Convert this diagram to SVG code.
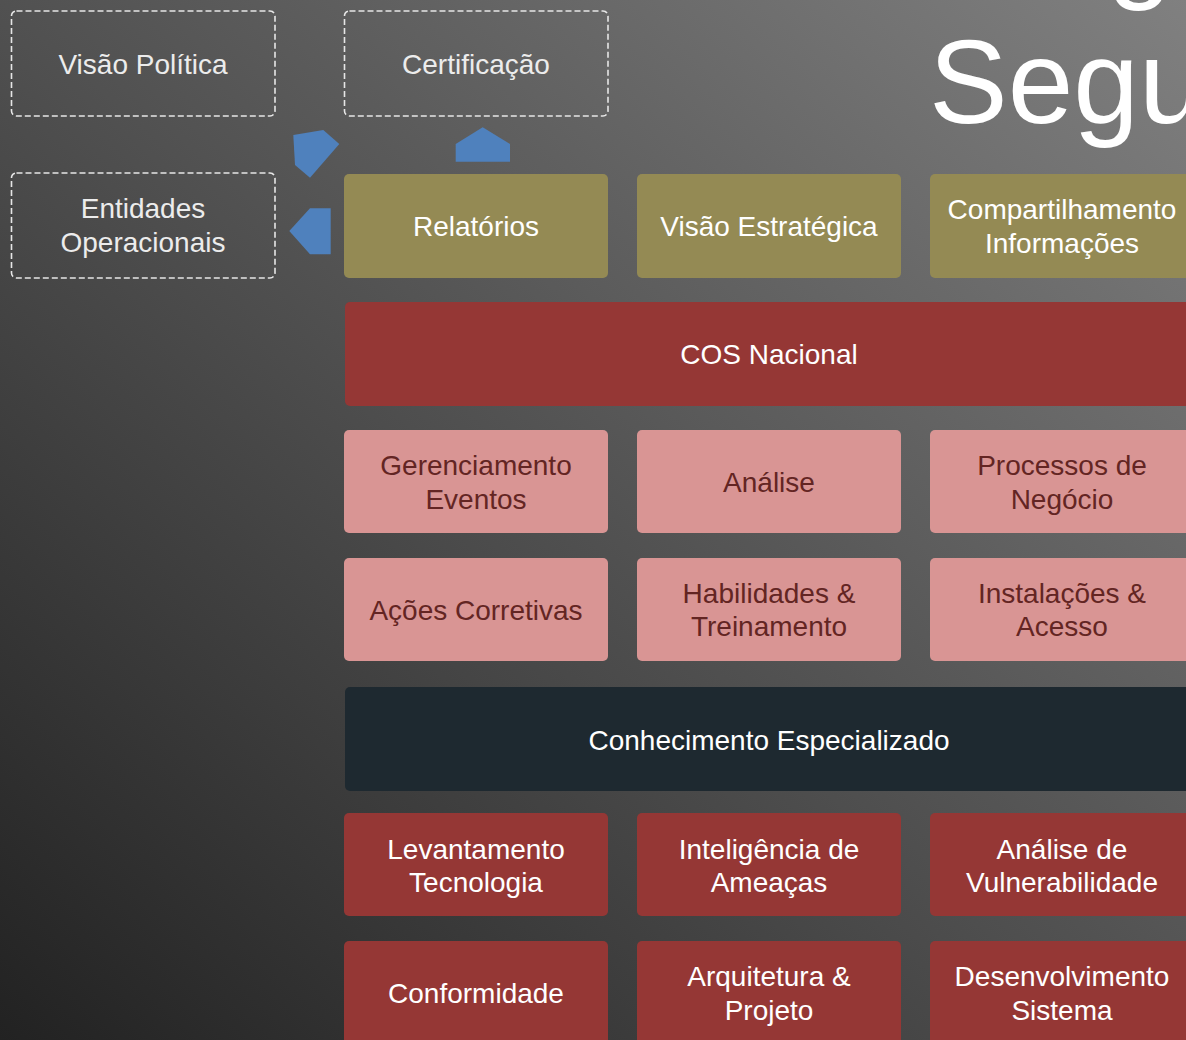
<svg xmlns="http://www.w3.org/2000/svg" width="1186" height="1040" viewBox="0 0 1186 1040">
<defs>
<linearGradient id="bg" x1="1" y1="0" x2="0" y2="1">
<stop offset="0" stop-color="#808080"/>
<stop offset="1" stop-color="#222222"/>
</linearGradient>
</defs>
<style>
text{font-family:"Liberation Sans",Arial,sans-serif;font-size:28px;text-anchor:middle}
.dash rect{fill:none;stroke:#e6e6e6;stroke-width:1.6;stroke-dasharray:6 3}
.dash text{fill:#ececec}
.olive rect{fill:#948a54}
.olive text{fill:#ffffff}
.cos rect{fill:#953735}
.cos text{fill:#ffffff}
.pink rect{fill:#d99594}
.pink text{fill:#632523}
.dark rect{fill:#1e2930}
.dark text{fill:#ffffff}
.arrow{fill:#4f81bd}
.title{font-size:118px;fill:#ffffff;text-anchor:start}
</style>
<rect width="1186" height="1040" fill="url(#bg)"/>
<text class="title" x="1107" y="-14">g</text>
<text class="title" x="929" y="123">Segu</text>

<g id="connectors">
<polygon class="arrow" points="293.3,135 323.3,130 339.3,144 310,177.7 295,165"/>
<polygon class="arrow" points="455.7,144 482.7,127.3 510,144 510,161.7 455.7,161.7"/>
<polygon class="arrow" points="289.3,231 310,208.3 330.7,208.3 330.7,254.3 310,254.3"/>
</g>

<g id="visao-politica" class="dash"><rect x="11.5" y="11" width="263.5" height="105" rx="5"/><text x="143" y="74">Visão Política</text></g>
<g id="certificacao" class="dash"><rect x="344.5" y="11" width="263.5" height="105" rx="5"/><text x="476" y="74">Certificação</text></g>
<g id="entidades-operacionais" class="dash"><rect x="11.5" y="173" width="263.5" height="105" rx="5"/><text x="143" y="218">Entidades</text><text x="143" y="252">Operacionais</text></g>

<g id="relatorios" class="olive"><rect x="344" y="174" width="264" height="104" rx="5"/><text x="476" y="236">Relatórios</text></g>
<g id="visao-estrategica" class="olive"><rect x="637" y="174" width="264" height="104" rx="5"/><text x="769" y="236">Visão Estratégica</text></g>
<g id="compartilhamento" class="olive"><rect x="930" y="174" width="264" height="104" rx="5"/><text x="1062" y="219">Compartilhamento</text><text x="1062" y="253">Informações</text></g>

<g id="cos-nacional" class="cos"><rect x="345" y="302" width="848" height="104" rx="5"/><text x="769" y="364">COS Nacional</text></g>

<g id="gerenciamento-eventos" class="pink"><rect x="344" y="430" width="264" height="103" rx="5"/><text x="476" y="475">Gerenciamento</text><text x="476" y="509">Eventos</text></g>
<g id="analise" class="pink"><rect x="637" y="430" width="264" height="103" rx="5"/><text x="769" y="492">Análise</text></g>
<g id="processos-negocio" class="pink"><rect x="930" y="430" width="264" height="103" rx="5"/><text x="1062" y="475">Processos de</text><text x="1062" y="509">Negócio</text></g>

<g id="acoes-corretivas" class="pink"><rect x="344" y="558" width="264" height="103" rx="5"/><text x="476" y="620">Ações Corretivas</text></g>
<g id="habilidades-treinamento" class="pink"><rect x="637" y="558" width="264" height="103" rx="5"/><text x="769" y="603">Habilidades &amp;</text><text x="769" y="636">Treinamento</text></g>
<g id="instalacoes-acesso" class="pink"><rect x="930" y="558" width="264" height="103" rx="5"/><text x="1062" y="603">Instalações &amp;</text><text x="1062" y="636">Acesso</text></g>

<g id="conhecimento-especializado" class="dark"><rect x="345" y="687" width="848" height="104" rx="5"/><text x="769" y="750">Conhecimento Especializado</text></g>

<g id="levantamento-tecnologia" class="cos"><rect x="344" y="813" width="264" height="103" rx="5"/><text x="476" y="859">Levantamento</text><text x="476" y="892">Tecnologia</text></g>
<g id="inteligencia-ameacas" class="cos"><rect x="637" y="813" width="264" height="103" rx="5"/><text x="769" y="859">Inteligência de</text><text x="769" y="892">Ameaças</text></g>
<g id="analise-vulnerabilidade" class="cos"><rect x="930" y="813" width="264" height="103" rx="5"/><text x="1062" y="859">Análise de</text><text x="1062" y="892">Vulnerabilidade</text></g>

<g id="conformidade" class="cos"><rect x="344" y="941" width="264" height="110" rx="5"/><text x="476" y="1003">Conformidade</text></g>
<g id="arquitetura-projeto" class="cos"><rect x="637" y="941" width="264" height="110" rx="5"/><text x="769" y="986">Arquitetura &amp;</text><text x="769" y="1020">Projeto</text></g>
<g id="desenvolvimento-sistema" class="cos"><rect x="930" y="941" width="264" height="110" rx="5"/><text x="1062" y="986">Desenvolvimento</text><text x="1062" y="1020">Sistema</text></g>
</svg>
